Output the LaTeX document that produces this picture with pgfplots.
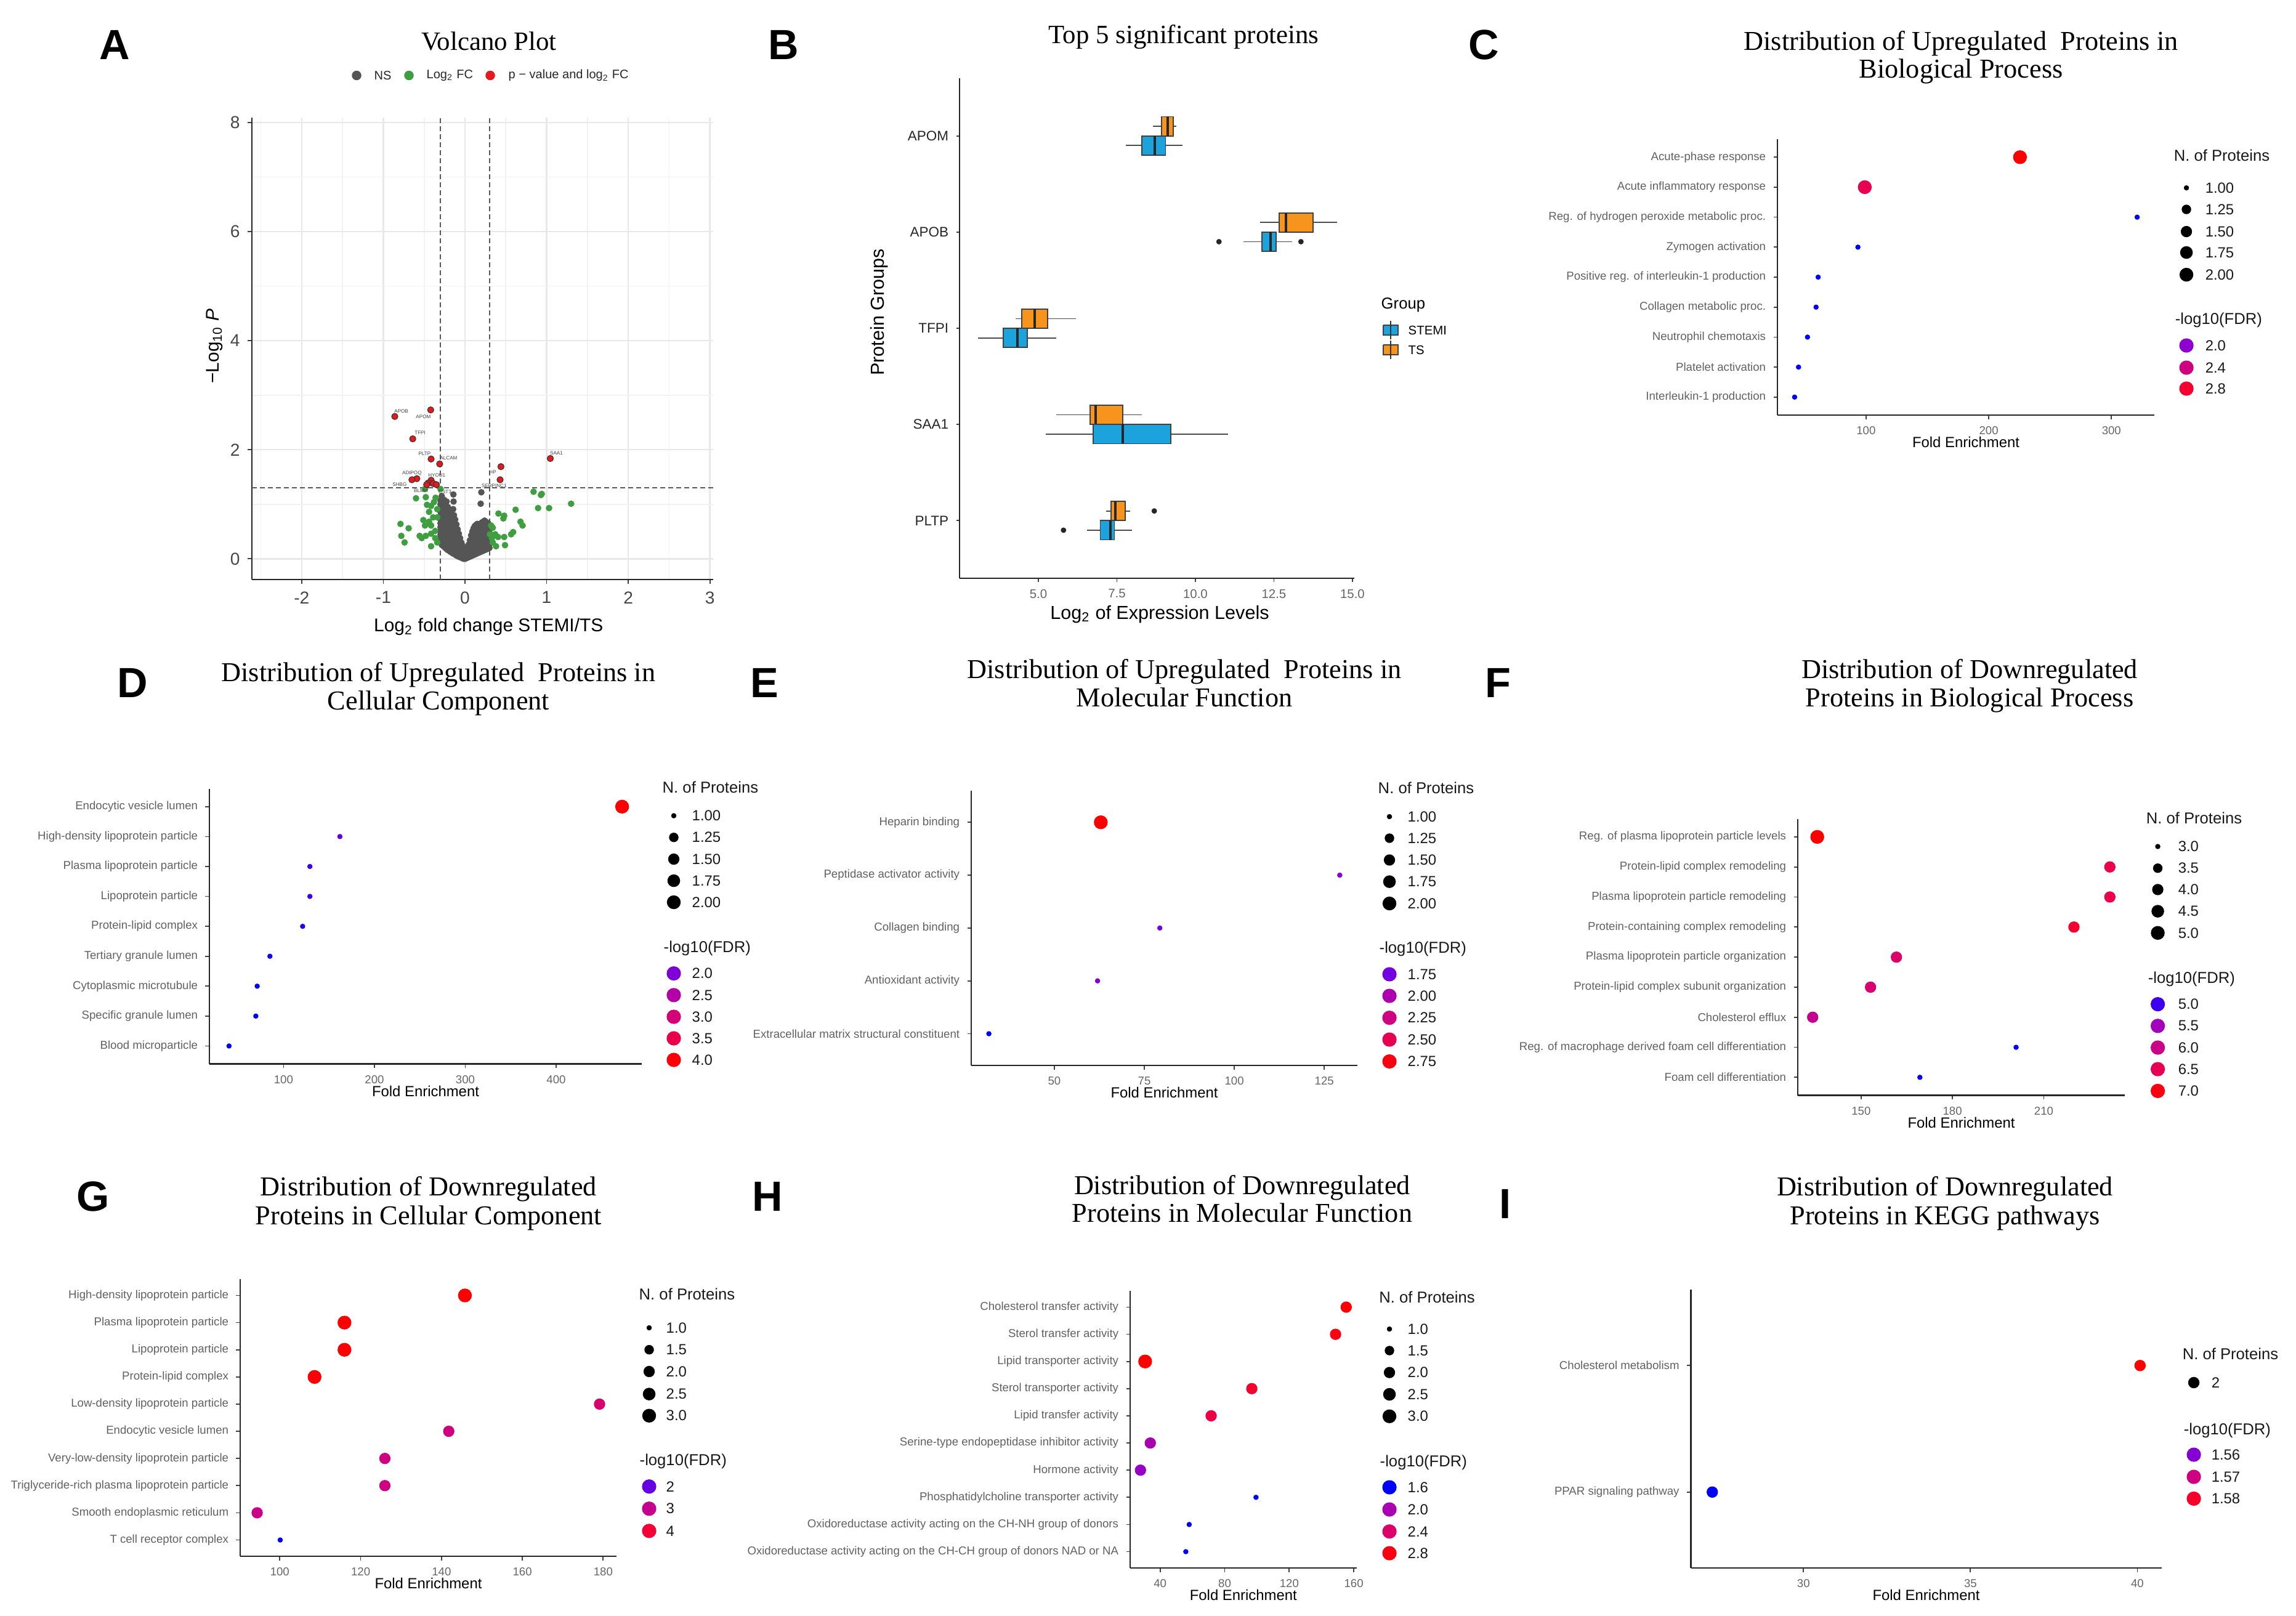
\documentclass[border=0pt]{standalone}
\usepackage{fontspec}
\setmainfont{Liberation Sans}
\newfontfamily\titlefont{Liberation Serif}
\usepackage{pgfplots}
\pgfplotsset{compat=1.18}
\usepgfplotslibrary{statistics}

\definecolor{nsgray}{HTML}{555555}
\definecolor{fcgreen}{HTML}{3F9E3F}
\definecolor{pred}{HTML}{E3191E}
\definecolor{stemi}{HTML}{1CA3DE}
\definecolor{ts}{HTML}{F7941D}

\newcommand\fletter{\fontsize{19.5}{20}\selectfont\bfseries}
\newcommand\ftitle{\titlefont\fontsize{12.6}{13}\selectfont}
\newcommand\ftitleab{\titlefont\fontsize{12.2}{13}\selectfont}
\newcommand\flegt{\fontsize{7.3}{8.5}\selectfont}
\newcommand\fleg{\fontsize{6.8}{8}\selectfont}
\newcommand\ftick{\fontsize{5.3}{6.3}\selectfont}

\pgfplotsset{
  colormap={gg}{rgb255(0cm)=(0,0,255); rgb255(1cm)=(115,0,224); rgb255(2cm)=(154,0,195);
    rgb255(3cm)=(181,0,165); rgb255(4cm)=(201,0,136); rgb255(5cm)=(218,0,108);
    rgb255(6cm)=(232,0,80); rgb255(7cm)=(244,0,49); rgb255(8cm)=(255,0,0)},
  canvas/.style={scale only axis, width=372.8mm, height=262.4mm,
    xmin=0, xmax=3728, ymin=0, ymax=2624, y dir=reverse,
    hide axis, clip=false, at={(0mm,0mm)}, anchor=north west, colormap name=gg},
  nsize/.style 2 args={visualization depends on={\thisrow{n} \as \nprot},
    scatter/@pre marker code/.append style={/tikz/mark size={(3.5+7*sqrt((\nprot-#1)/(#2-#1)))*0.28453}}},
  dots/.style={scatter, only marks, mark=*, point meta=explicit,
    scatter/use mapped color={draw=mapped color, fill=mapped color}},
  gglines/.style={axis x line*=bottom, axis y line*=left,
    axis line style={-, line width=0.8pt, black!85},
    tick align=outside, tick pos=left, major tick length=0.65mm,
    tick style={line width=0.5pt, black!75}},
  dotpanel/.style={scale only axis, anchor=south west, clip=false, gglines,
    ymin=0.4, colormap name=gg, scaled x ticks=false,
    /pgf/number format/assume math mode=true,
    ticklabel style={font=\ftick},
    xticklabel style={text=black!60},
    yticklabel style={text=black!62},
    xlabel={Fold Enrichment},
    xlabel style={at={(axis description cs:0.5,0)}, anchor=center, yshift=-4.4mm,
      font=\fontsize{6.8}{8}\selectfont}},
}

\begin{document}
\begin{tikzpicture}
\path[use as bounding box] (0,0) rectangle (372.8mm,-262.4mm);

% ---------------- A: volcano plot
\begin{axis}[scale only axis, anchor=south west, at={(40.9mm,-94.1mm)},
  width=74.9mm, height=75mm, gglines, major tick length=0.7mm,
  xmin=-2.61, xmax=3.04, ymin=-0.38, ymax=8.09,
  xtick={-2,-1,0,1,2,3}, ytick={0,2,4,6,8},
  minor xtick={-2.5,-1.5,-0.5,0.5,1.5,2.5}, minor ytick={1,3,5,7}, minor tick length=0pt,
  grid=both, major grid style={black!9, line width=0.7pt},
  minor grid style={black!5, line width=0.45pt},
  /pgf/number format/assume math mode=true,
  ticklabel style={font=\fontsize{8}{9.6}\selectfont, text=black!72},
  label style={font=\fontsize{8.5}{10}\selectfont},
  xlabel={Log\textsubscript{2} fold change STEMI/TS},
  ylabel={−Log\textsubscript{10} \textit{P}},
  xlabel style={at={(axis description cs:0.513,-0.103)}, anchor=center},
  ylabel style={at={(axis description cs:-0.0814,0.505)}, anchor=center},
  clip=false]
\addplot[black!65, line width=0.5pt, dash pattern=on 0.8mm off 0.5mm] coordinates {(-0.3,-0.38) (-0.3,8.09)};
\addplot[black!65, line width=0.5pt, dash pattern=on 0.8mm off 0.5mm] coordinates {(0.3,-0.38) (0.3,8.09)};
\addplot[black!65, line width=0.5pt, dash pattern=on 0.8mm off 0.5mm] coordinates {(-2.61,1.3) (3.04,1.3)};
% NS
\addplot[only marks, mark=*, mark size=1.3pt, mark options={fill=nsgray, draw=nsgray}] coordinates {
(-0.300,0.30) (-0.300,0.37) (-0.300,0.44) (-0.300,0.51) (-0.300,0.58) (-0.300,0.65) (-0.300,0.72) (-0.300,0.79) (-0.300,0.86) (-0.300,0.93) (-0.300,1.00) (-0.300,1.07)
(-0.285,0.26) (-0.285,0.33) (-0.285,0.40) (-0.285,0.47) (-0.285,0.54) (-0.285,0.61) (-0.285,0.68) (-0.285,0.75) (-0.285,0.82) (-0.285,0.89) (-0.285,0.96) (-0.285,1.03) (-0.285,1.10) (-0.285,1.15)
(-0.270,0.24) (-0.270,0.31) (-0.270,0.38) (-0.270,0.45) (-0.270,0.52) (-0.270,0.59) (-0.270,0.66) (-0.270,0.73) (-0.270,0.80) (-0.270,0.87) (-0.270,0.94) (-0.270,1.02)
(-0.255,0.22) (-0.255,0.29) (-0.255,0.36) (-0.255,0.43) (-0.255,0.50) (-0.255,0.57) (-0.255,0.64) (-0.255,0.71) (-0.255,0.78) (-0.255,0.85) (-0.255,0.92) (-0.255,0.99) (-0.255,1.08)
(-0.240,0.20) (-0.240,0.27) (-0.240,0.34) (-0.240,0.41) (-0.240,0.48) (-0.240,0.55) (-0.240,0.62) (-0.240,0.69) (-0.240,0.76) (-0.240,0.83) (-0.240,0.90) (-0.240,0.98)
(-0.225,0.18) (-0.225,0.25) (-0.225,0.32) (-0.225,0.39) (-0.225,0.46) (-0.225,0.53) (-0.225,0.60) (-0.225,0.67) (-0.225,0.74) (-0.225,0.81) (-0.225,0.88) (-0.225,0.95) (-0.225,1.05)
(-0.210,0.16) (-0.210,0.23) (-0.210,0.30) (-0.210,0.37) (-0.210,0.44) (-0.210,0.51) (-0.210,0.58) (-0.210,0.65) (-0.210,0.72) (-0.210,0.79) (-0.210,0.86) (-0.210,0.95)
(-0.195,0.15) (-0.195,0.22) (-0.195,0.29) (-0.195,0.36) (-0.195,0.43) (-0.195,0.50) (-0.195,0.57) (-0.195,0.64) (-0.195,0.71) (-0.195,0.78) (-0.195,0.84) (-0.195,0.90)
(-0.180,0.13) (-0.180,0.20) (-0.180,0.27) (-0.180,0.34) (-0.180,0.41) (-0.180,0.48) (-0.180,0.55) (-0.180,0.62) (-0.180,0.69) (-0.180,0.76) (-0.180,0.86)
(-0.165,0.12) (-0.165,0.19) (-0.165,0.26) (-0.165,0.33) (-0.165,0.40) (-0.165,0.47) (-0.165,0.54) (-0.165,0.61) (-0.165,0.68) (-0.165,0.74) (-0.165,0.82)
(-0.150,0.10) (-0.150,0.17) (-0.150,0.24) (-0.150,0.31) (-0.150,0.38) (-0.150,0.45) (-0.150,0.52) (-0.150,0.59) (-0.150,0.66) (-0.150,0.75) (-0.145,0.91) (-0.140,1.05) (-0.142,1.18)
(-0.135,0.09) (-0.135,0.16) (-0.135,0.23) (-0.135,0.30) (-0.135,0.37) (-0.135,0.44) (-0.135,0.51) (-0.135,0.58) (-0.135,0.65) (-0.135,0.72) (-0.135,0.80)
(-0.120,0.08) (-0.120,0.15) (-0.120,0.22) (-0.120,0.29) (-0.120,0.36) (-0.120,0.43) (-0.120,0.50) (-0.120,0.57) (-0.120,0.64) (-0.120,0.72)
(-0.105,0.06) (-0.105,0.13) (-0.105,0.20) (-0.105,0.27) (-0.105,0.34) (-0.105,0.41) (-0.105,0.48) (-0.105,0.55) (-0.105,0.63)
(-0.090,0.05) (-0.090,0.12) (-0.090,0.19) (-0.090,0.26) (-0.090,0.33) (-0.090,0.40) (-0.090,0.47) (-0.090,0.54)
(-0.075,0.04) (-0.075,0.11) (-0.075,0.18) (-0.075,0.25) (-0.075,0.32) (-0.075,0.39) (-0.075,0.46)
(-0.060,0.03) (-0.060,0.10) (-0.060,0.17) (-0.060,0.24) (-0.060,0.31) (-0.060,0.38)
(-0.045,0.02) (-0.045,0.09) (-0.045,0.16) (-0.045,0.23) (-0.045,0.30)
(-0.030,0.01) (-0.030,0.08) (-0.030,0.15) (-0.030,0.24)
(-0.015,0.00) (-0.015,0.07) (-0.015,0.17)
(0.000,0.00) (0.000,0.06) (0.000,0.12)
(0.015,0.01) (0.015,0.08) (0.015,0.15)
(0.030,0.02) (0.030,0.09) (0.030,0.20)
(0.045,0.03) (0.045,0.10) (0.045,0.17) (0.045,0.26)
(0.060,0.04) (0.060,0.11) (0.060,0.18) (0.060,0.25) (0.060,0.34)
(0.075,0.05) (0.075,0.12) (0.075,0.19) (0.075,0.26) (0.075,0.33) (0.075,0.43)
(0.090,0.06) (0.090,0.13) (0.090,0.20) (0.090,0.27) (0.090,0.34) (0.090,0.41) (0.090,0.50)
(0.105,0.07) (0.105,0.14) (0.105,0.21) (0.105,0.28) (0.105,0.35) (0.105,0.42) (0.105,0.49) (0.105,0.56)
(0.120,0.08) (0.120,0.15) (0.120,0.22) (0.120,0.29) (0.120,0.36) (0.120,0.43) (0.120,0.50) (0.120,0.60)
(0.135,0.09) (0.135,0.16) (0.135,0.23) (0.135,0.30) (0.135,0.37) (0.135,0.44) (0.135,0.51) (0.135,0.62)
(0.150,0.10) (0.150,0.17) (0.150,0.24) (0.150,0.31) (0.150,0.38) (0.150,0.45) (0.150,0.52) (0.150,0.64)
(0.165,0.11) (0.165,0.18) (0.165,0.25) (0.165,0.32) (0.165,0.39) (0.165,0.46) (0.165,0.53) (0.165,0.62)
(0.180,0.12) (0.180,0.19) (0.180,0.26) (0.180,0.33) (0.180,0.40) (0.180,0.47) (0.180,0.54) (0.180,0.63)
(0.195,0.13) (0.195,0.20) (0.195,0.27) (0.195,0.34) (0.195,0.41) (0.195,0.48) (0.195,0.55) (0.195,0.65) (0.192,1.01) (0.200,1.22)
(0.210,0.14) (0.210,0.21) (0.210,0.28) (0.210,0.35) (0.210,0.42) (0.210,0.49) (0.210,0.56) (0.210,0.67)
(0.225,0.15) (0.225,0.22) (0.225,0.29) (0.225,0.36) (0.225,0.43) (0.225,0.50) (0.225,0.57) (0.225,0.68)
(0.240,0.16) (0.240,0.23) (0.240,0.30) (0.240,0.37) (0.240,0.44) (0.240,0.51) (0.240,0.58) (0.240,0.70)
(0.255,0.17) (0.255,0.24) (0.255,0.31) (0.255,0.38) (0.255,0.45) (0.255,0.52) (0.255,0.59) (0.255,0.68)
(0.270,0.18) (0.270,0.25) (0.270,0.32) (0.270,0.39) (0.270,0.46) (0.270,0.53) (0.270,0.66)
(0.285,0.19) (0.285,0.26) (0.285,0.33) (0.285,0.40) (0.285,0.47) (0.285,0.54) (0.285,0.65)
(0.300,0.20) (0.300,0.27) (0.300,0.34) (0.300,0.41) (0.300,0.48) (0.300,0.60)
};
% Log2 FC
\addplot[only marks, mark=*, mark size=1.3pt, mark options={fill=fcgreen, draw=fcgreen}] coordinates {
(-0.79,0.64) (-0.69,0.56) (-0.78,0.42) (-0.74,0.30) (-0.60,1.11) (-0.51,0.71) (-0.48,1.13)
(-0.36,1.12) (-0.465,0.99) (-0.415,0.97) (-0.44,0.86) (-0.39,0.76) (-0.49,0.61) (-0.415,0.61)
(-0.555,0.42) (-0.48,0.42) (-0.415,0.46) (-0.365,0.51) (-0.415,0.23) (-0.34,0.30) (-0.34,0.76)
(-0.34,0.91) (-0.49,1.28) (-0.30,1.28) (-0.365,0.38) (-0.44,0.68) (-0.53,0.38) (-0.38,1.04)
(0.84,1.23) (0.93,1.17) (0.94,1.19) (1.30,1.01) (0.895,0.93) (1.03,0.93) (0.62,0.90)
(0.41,0.83) (0.48,0.79) (0.47,0.74) (0.68,0.68) (0.705,0.61) (0.59,0.49) (0.565,0.45)
(0.48,0.40) (0.49,0.25) (0.34,0.57) (0.37,0.45) (0.405,0.40) (0.33,0.38) (0.32,0.61)
(0.34,0.30) (0.38,0.23) (0.305,0.45)
};
% p-value and log2 FC
\addplot[only marks, mark=*, mark size=1.45pt, mark options={fill=pred, draw=black!80, line width=0.3pt}] coordinates {
(-0.86,2.61) (-0.42,2.73) (-0.64,2.20) (-0.415,1.83) (-0.31,1.74) (1.045,1.84) (0.44,1.69)
(0.43,1.45) (-0.59,1.47) (-0.65,1.45) (-0.415,1.44) (-0.45,1.39) (-0.39,1.38) (-0.35,1.36) (-0.47,1.36)
};
\addplot[only marks, mark=none, nodes near coords, point meta=explicit symbolic,
  every node near coord/.append style={font=\fontsize{2.3}{2.6}\selectfont, text=black!75, inner sep=0pt, anchor=center}]
  coordinates {
(-0.78,2.71)[APOB] (-0.51,2.61)[APOM] (-0.55,2.31)[TFPI] (-0.495,1.93)[PLTP] (-0.20,1.85)[ALCAM]
(1.12,1.94)[SAA1] (0.34,1.59)[HP] (-0.65,1.57)[ADIPOQ] (-0.345,1.53)[HYOU1] (-0.80,1.36)[SHBG]
(-0.54,1.25)[BLMH] (-0.245,1.23)[CST3] (0.357,1.34)[SERPINC1]
};
\end{axis}

% ---------------- B: box plots
\begin{axis}[scale only axis, anchor=south west, at={(155.8mm,-93.9mm)},
  width=64.1mm, height=81.2mm, gglines, major tick length=0.55mm,
  xmin=2.49, xmax=15.06, ymin=0.4, ymax=5.6,
  xtick={5,7.5,10,12.5,15}, xticklabels={5.0,7.5,10.0,12.5,15.0},
  ytick={1,2,3,4,5}, yticklabels={PLTP,SAA1,TFPI,APOB,APOM},
  xticklabel style={font=\fontsize{5.8}{7}\selectfont, text=black!60},
  yticklabel style={font=\fontsize{6.4}{7.5}\selectfont, text=black!85},
  label style={font=\fontsize{8.7}{10}\selectfont},
  xlabel={Log\textsubscript{2} of Expression Levels}, ylabel={Protein Groups},
  xlabel style={at={(axis description cs:0.507,-0.0727)}, anchor=center},
  ylabel style={at={(axis description cs:-0.203,0.532)}, anchor=center},
  boxplot/draw direction=x, boxplot/box extend=0.2, boxplot/whisker extend=0,
  boxplot/every median/.style={line width=1.1pt, black!85},
  boxplot/every whisker/.style={black!70},
  clip=false]
% APOM
\addplot[fill=ts, draw=black!75, line width=0.5pt, boxplot prepared={draw position=5.1,
  lower whisker=8.64, lower quartile=8.92, median=9.12, upper quartile=9.30, upper whisker=9.39}] coordinates {};
\addplot[fill=stemi, draw=black!75, line width=0.5pt, boxplot prepared={draw position=4.9,
  lower whisker=7.79, lower quartile=8.30, median=8.70, upper quartile=9.05, upper whisker=9.58}] coordinates {};
% APOB
\addplot[fill=ts, draw=black!75, line width=0.5pt, boxplot prepared={draw position=4.1,
  lower whisker=12.05, lower quartile=12.67, median=12.89, upper quartile=13.75, upper whisker=14.51}] coordinates {};
\addplot[fill=stemi, draw=black!75, line width=0.5pt, boxplot prepared={draw position=3.9,
  lower whisker=11.53, lower quartile=12.12, median=12.40, upper quartile=12.57, upper whisker=13.08}] coordinates {};
% TFPI
\addplot[fill=ts, draw=black!75, line width=0.5pt, boxplot prepared={draw position=3.1,
  lower whisker=4.27, lower quartile=4.47, median=4.89, upper quartile=5.29, upper whisker=6.19}] coordinates {};
\addplot[fill=stemi, draw=black!75, line width=0.5pt, boxplot prepared={draw position=2.9,
  lower whisker=3.07, lower quartile=3.88, median=4.33, upper quartile=4.65, upper whisker=5.56}] coordinates {};
% SAA1
\addplot[fill=ts, draw=black!75, line width=0.5pt, boxplot prepared={draw position=2.1,
  lower whisker=5.57, lower quartile=6.64, median=6.82, upper quartile=7.69, upper whisker=8.30}] coordinates {};
\addplot[fill=stemi, draw=black!75, line width=0.5pt, boxplot prepared={draw position=1.9,
  lower whisker=5.24, lower quartile=6.75, median=7.69, upper quartile=9.22, upper whisker=11.04}] coordinates {};
% PLTP
\addplot[fill=ts, draw=black!75, line width=0.5pt, boxplot prepared={draw position=1.1,
  lower whisker=7.15, lower quartile=7.32, median=7.45, upper quartile=7.77, upper whisker=7.92}] coordinates {};
\addplot[fill=stemi, draw=black!75, line width=0.5pt, boxplot prepared={draw position=0.9,
  lower whisker=6.54, lower quartile=6.97, median=7.29, upper quartile=7.42, upper whisker=7.99}] coordinates {};
% outliers
\addplot[only marks, mark=*, mark size=1.05pt, black!85] coordinates {(10.75,3.9) (13.36,3.9) (8.69,1.1) (5.80,0.9)};
\end{axis}

% ---------------- C
\begin{axis}[dotpanel, at={(288.6mm,-67.4mm)}, width=61.2mm, height=44.8mm,
  xmin=27.8, xmax=335, ymax=9.6, xtick={100,200,300}, ytick={1,...,9},
  yticklabels={Interleukin-1 production,%
    Platelet activation,%
    Neutrophil chemotaxis,%
    Collagen metabolic proc.,%
    Positive reg. of interleukin-1 production,%
    Zymogen activation,%
    Reg. of hydrogen peroxide metabolic proc.,%
    Acute inflammatory response,%
    Acute-phase response},
  point meta min=1.75, point meta max=2.95]
\addplot[dots, nsize={1}{2}] table[x=fe, y=pos, meta=fdr] {
fe pos fdr n
225.5 9 2.95 2
99.0 8 2.65 2
321.0 7 1.75 1
93.4 6 1.75 1
61.0 5 1.75 1
59.3 4 1.75 1
52.3 3 1.75 1
45.0 2 1.75 1
41.8 1 1.75 1
};
\end{axis}

% ---------------- D
\begin{axis}[dotpanel, at={(34.0mm,-172.76mm)}, width=70.2mm, height=44.7mm,
  xmin=18.4, xmax=494.2, ymax=9.6, xtick={100,200,300,400}, ytick={1,...,9},
  yticklabels={Blood microparticle,%
    Specific granule lumen,%
    Cytoplasmic microtubule,%
    Tertiary granule lumen,%
    Protein-lipid complex,%
    Lipoprotein particle,%
    Plasma lipoprotein particle,%
    High-density lipoprotein particle,%
    Endocytic vesicle lumen},
  point meta min=1.6, point meta max=4.05]
\addplot[dots, nsize={1}{2}] table[x=fe, y=pos, meta=fdr] {
fe pos fdr n
472.6 9 4.05 2
162.0 8 1.85 1
129.0 7 1.75 1
129.0 6 1.75 1
121.0 5 1.70 1
85.0 4 1.65 1
71.0 3 1.60 1
69.5 2 1.60 1
40.0 1 1.60 1
};
\end{axis}

% ---------------- E
\begin{axis}[dotpanel, at={(157.7mm,-173.0mm)}, width=62.7mm, height=44.63mm,
  xmin=26.9, xmax=134.2, ymax=5.6, xtick={50,75,100,125}, ytick={1,...,5},
  yticklabels={Extracellular matrix structural constituent,%
    Antioxidant activity,%
    Collagen binding,%
    Peptidase activator activity,%
    Heparin binding},
  point meta min=1.6, point meta max=2.8]
\addplot[dots, nsize={1}{2}] table[x=fe, y=pos, meta=fdr] {
fe pos fdr n
62.9 5 2.80 2
129.3 4 1.80 1
79.3 3 1.75 1
62.0 2 1.80 1
31.8 1 1.60 1
};
\end{axis}

% ---------------- F
\begin{axis}[dotpanel, at={(291.9mm,-177.86mm)}, width=53.1mm, height=44.9mm,
  xmin=129.2, xmax=236.6, ymax=9.6, xtick={150,180,210}, ytick={1,...,9},
  yticklabels={Foam cell differentiation,%
    Reg. of macrophage derived foam cell differentiation,%
    Cholesterol efflux,%
    Protein-lipid complex subunit organization,%
    Plasma lipoprotein particle organization,%
    Protein-containing complex remodeling,%
    Plasma lipoprotein particle remodeling,%
    Protein-lipid complex remodeling,%
    Reg. of plasma lipoprotein particle levels},
  point meta min=4.85, point meta max=7.1]
\addplot[dots, nsize={3}{5}] table[x=fe, y=pos, meta=fdr] {
fe pos fdr n
135.6 9 7.10 5
231.7 8 6.60 4
231.7 7 6.60 4
219.9 6 6.80 4
161.6 5 6.30 4
153.1 4 6.20 4
134.1 3 5.90 4
200.9 2 4.85 3
169.3 1 4.85 3
};
\end{axis}

% ---------------- G
\begin{axis}[dotpanel, at={(39.0mm,-252.7mm)}, width=61.1mm, height=45.0mm,
  xmin=90.2, xmax=183.3, ymax=10.6, xtick={100,120,140,160,180}, ytick={1,...,10},
  yticklabels={T cell receptor complex,%
    Smooth endoplasmic reticulum,%
    Triglyceride-rich plasma lipoprotein particle,%
    Very-low-density lipoprotein particle,%
    Endocytic vesicle lumen,%
    Low-density lipoprotein particle,%
    Protein-lipid complex,%
    Lipoprotein particle,%
    Plasma lipoprotein particle,%
    High-density lipoprotein particle},
  point meta min=1.7, point meta max=4.4]
\addplot[dots, nsize={1}{3}] table[x=fe, y=pos, meta=fdr] {
fe pos fdr n
145.8 10 4.40 3
116.0 9 4.40 3
116.0 8 4.40 3
108.6 7 4.35 3
179.1 6 3.35 2
141.8 5 3.15 2
126.0 4 3.15 2
126.0 3 3.15 2
94.4 2 3.05 2
100.1 1 1.70 1
};
\end{axis}

% ---------------- H
\begin{axis}[dotpanel, at={(183.5mm,-254.6mm)}, width=36.76mm, height=45.0mm,
  xmin=21.4, xmax=161.7, ymax=10.6, xtick={40,80,120,160}, ytick={1,...,10},
  yticklabels={Oxidoreductase activity acting on the CH-CH group of donors NAD or NA,%
    Oxidoreductase activity acting on the CH-NH group of donors,%
    Phosphatidylcholine transporter activity,%
    Hormone activity,%
    Serine-type endopeptidase inhibitor activity,%
    Lipid transfer activity,%
    Sterol transporter activity,%
    Lipid transporter activity,%
    Sterol transfer activity,%
    Cholesterol transfer activity},
  point meta min=1.6, point meta max=2.85]
\addplot[dots, nsize={1}{3}] table[x=fe, y=pos, meta=fdr] {
fe pos fdr n
155.3 10 2.85 2
148.7 9 2.80 2
30.7 8 2.85 3
96.8 7 2.70 2
71.6 6 2.60 2
33.9 5 2.00 2
27.8 4 1.90 2
99.4 3 1.60 1
58.0 2 1.60 1
55.9 1 1.60 1
};
\end{axis}

% ---------------- I
\begin{axis}[dotpanel, at={(274.55mm,-254.6mm)}, width=76.4mm, height=45.2mm,
  xmin=26.63, xmax=40.72, ymax=2.6, xtick={30,35,40}, ytick={1,2},
  yticklabels={PPAR signaling pathway,Cholesterol metabolism},
  point meta min=1.555, point meta max=1.583]
\addplot[dots, mark size=2.42pt] table[x=fe, y=pos, meta=fdr] {
fe pos fdr
40.08 2 1.583
27.27 1 1.555
};
\end{axis}

% ---------------- legend keys: sizes, A and B
\begin{axis}[canvas]
\addplot[scatter, only marks, mark=*, scatter/use mapped color={draw=black, fill=black},
  nsize={1}{2}, point meta=\thisrow{n}] table[x=x, y=y] {
x y n
3550 305 1.00
3550 340 1.25
3550 376 1.50
3550 410 1.75
3550 446 2.00
1094 1324.5 1.00
1094 1359.7 1.25
1094 1395 1.50
1094 1430 1.75
1094 1465 2.00
2256 1326 1.00
2256 1361 1.25
2256 1396.4 1.50
2256 1431.6 1.75
2256 1467 2.00
};
\addplot[scatter, only marks, mark=*, scatter/use mapped color={draw=black, fill=black},
  nsize={3}{5}, point meta=\thisrow{n}] table[x=x, y=y] {
x y n
3503.5 1374.5 3.0
3503.5 1409.7 3.5
3503.5 1444.4 4.0
3503.5 1479.6 4.5
3503.5 1514.8 5.0
};
\addplot[scatter, only marks, mark=*, scatter/use mapped color={draw=black, fill=black},
  nsize={1}{3}, point meta=\thisrow{n}] table[x=x, y=y] {
x y n
1054 2156 1.0
1054 2191.6 1.5
1054 2227 2.0
1054 2263.6 2.5
1054 2298.7 3.0
2256 2158 1.0
2256 2193 1.5
2256 2228.6 2.0
2256 2264 2.5
2256 2299.7 3.0
};
\addplot[only marks, mark=*, mark size=2.42pt, black] coordinates {(3562,2245)};
% A legend
\addplot[only marks, mark=*, mark size=2pt, mark options={fill=nsgray, draw=nsgray}] coordinates {(579,122.5)};
\addplot[only marks, mark=*, mark size=2pt, mark options={fill=fcgreen, draw=fcgreen}] coordinates {(664,122.5)};
\addplot[only marks, mark=*, mark size=2pt, mark options={fill=pred, draw=pred}] coordinates {(796,122.5)};
% B legend
\addplot[mark=none, fill=stemi, draw=black!75, line width=0.5pt] coordinates {(2246,528) (2270,528) (2270,544) (2246,544) (2246,528)};
\addplot[mark=none, draw=black!80, line width=0.8pt] coordinates {(2258,521) (2258,551)};
\addplot[mark=none, fill=ts, draw=black!75, line width=0.5pt] coordinates {(2246,560) (2270,560) (2270,576) (2246,576) (2246,560)};
\addplot[mark=none, draw=black!80, line width=0.8pt] coordinates {(2258,553) (2258,583)};
\end{axis}

% ---------------- legend keys: colours
\begin{axis}[canvas, point meta min=1.75, point meta max=2.95]
\addplot[dots, mark size=3.1pt] table[x=x, y=y, meta=v] {
x y v
3550 561 2.0
3550 597 2.4
3550 631 2.8
};
\end{axis}
\begin{axis}[canvas, point meta min=1.6, point meta max=4.05]
\addplot[dots, mark size=3.1pt] table[x=x, y=y, meta=v] {
x y v
1094 1580.6 2.0
1094 1615.8 2.5
1094 1651 3.0
1094 1686 3.5
1094 1721 4.0
};
\end{axis}
\begin{axis}[canvas, point meta min=1.6, point meta max=2.8]
\addplot[dots, mark size=3.1pt] table[x=x, y=y, meta=v] {
x y v
2256 1582 1.75
2256 1617 2.00
2256 1652.6 2.25
2256 1688 2.50
2256 1723.5 2.75
};
\end{axis}
\begin{axis}[canvas, point meta min=4.85, point meta max=7.1]
\addplot[dots, mark size=3.1pt] table[x=x, y=y, meta=v] {
x y v
3503.5 1630.6 5.0
3503.5 1665.8 5.5
3503.5 1701 6.0
3503.5 1736 6.5
3503.5 1771.4 7.0
};
\end{axis}
\begin{axis}[canvas, point meta min=1.7, point meta max=4.4]
\addplot[dots, mark size=3.1pt] table[x=x, y=y, meta=v] {
x y v
1054 2413.7 2
1054 2449.7 3
1054 2485.8 4
};
\end{axis}
\begin{axis}[canvas, point meta min=1.6, point meta max=2.85]
\addplot[dots, mark size=3.1pt] table[x=x, y=y, meta=v] {
x y v
2256 2415 1.6
2256 2451 2.0
2256 2486.7 2.4
2256 2522 2.8
};
\end{axis}
\begin{axis}[canvas, point meta min=1.555, point meta max=1.583]
\addplot[dots, mark size=3.1pt] table[x=x, y=y, meta=v] {
x y v
3562 2362 1.56
3562 2398 1.57
3562 2433.4 1.58
};
\end{axis}

% ---------------- texts
\begin{scope}[x=0.1mm, y=-0.1mm]
% panel letters
\node[font=\fletter, anchor=base] at (186,97) {A};
\node[font=\fletter, anchor=base] at (1272,97) {B};
\node[font=\fletter, anchor=base] at (2409,97) {C};
\node[font=\fletter, anchor=base] at (215,1132) {D};
\node[font=\fletter, anchor=base] at (1241,1132) {E};
\node[font=\fletter, anchor=base] at (2432,1132) {F};
\node[font=\fletter, anchor=base] at (151,1966) {G};
\node[font=\fletter, anchor=base] at (1246,1966) {H};
\node[font=\fletter, anchor=base] at (2444,1978) {I};
% titles
\node[font=\ftitleab, anchor=base] at (794,82) {Volcano Plot};
\node[font=\ftitleab, anchor=base] at (1922,71) {Top 5 significant proteins};
\node[font=\ftitle, anchor=base] at (3184,82) {Distribution of Upregulated\ \ Proteins in};
\node[font=\ftitle, anchor=base] at (3184,127) {Biological Process};
\node[font=\ftitle, anchor=base] at (712,1106) {Distribution of Upregulated\ \ Proteins in};
\node[font=\ftitle, anchor=base] at (712,1152) {Cellular Component};
\node[font=\ftitle, anchor=base] at (1923,1101) {Distribution of Upregulated\ \ Proteins in};
\node[font=\ftitle, anchor=base] at (1923,1147) {Molecular Function};
\node[font=\ftitle, anchor=base] at (3198,1101) {Distribution of Downregulated};
\node[font=\ftitle, anchor=base] at (3198,1147) {Proteins in Biological Process};
\node[font=\ftitle, anchor=base] at (696,1941) {Distribution of Downregulated};
\node[font=\ftitle, anchor=base] at (696,1988) {Proteins in Cellular Component};
\node[font=\ftitle, anchor=base] at (2017,1939) {Distribution of Downregulated};
\node[font=\ftitle, anchor=base] at (2017,1984) {Proteins in Molecular Function};
\node[font=\ftitle, anchor=base] at (3158,1941) {Distribution of Downregulated};
\node[font=\ftitle, anchor=base] at (3158,1988) {Proteins in KEGG pathways};
% A legend
\begin{scope}[every node/.style={font=\fontsize{5.7}{7}\selectfont, anchor=west, inner sep=0pt, text=black!85}]
\node at (607,122.5) {NS};
\node at (692,122.5) {Log\textsubscript{2} FC};
\node at (825,122.5) {p − value and log\textsubscript{2} FC};
\end{scope}
% B legend
\node[font=\flegt, anchor=west, inner sep=0pt] at (2242,495) {Group};
\node[font=\fontsize{5.8}{7}\selectfont, anchor=west, inner sep=0pt] at (2286,536) {STEMI};
\node[font=\fontsize{5.8}{7}\selectfont, anchor=west, inner sep=0pt] at (2286,568) {TS};
% dot panel legends
\begin{scope}[every node/.style={anchor=west, inner sep=0pt, text=black!90}]
\node[font=\flegt] at (3529,252) {N. of Proteins};
\node[font=\fleg] at (3580,305) {1.00};
\node[font=\fleg] at (3580,340) {1.25};
\node[font=\fleg] at (3580,376) {1.50};
\node[font=\fleg] at (3580,410) {1.75};
\node[font=\fleg] at (3580,446) {2.00};
\node[font=\flegt] at (3531,520) {-log10(FDR)};
\node[font=\fleg] at (3580,561) {2.0};
\node[font=\fleg] at (3580,597) {2.4};
\node[font=\fleg] at (3580,631) {2.8};

\node[font=\flegt] at (1075,1278) {N. of Proteins};
\node[font=\fleg] at (1123,1324.5) {1.00};
\node[font=\fleg] at (1123,1359.7) {1.25};
\node[font=\fleg] at (1123,1395) {1.50};
\node[font=\fleg] at (1123,1430) {1.75};
\node[font=\fleg] at (1123,1465) {2.00};
\node[font=\flegt] at (1077,1540) {-log10(FDR)};
\node[font=\fleg] at (1123,1580.6) {2.0};
\node[font=\fleg] at (1123,1615.8) {2.5};
\node[font=\fleg] at (1123,1651) {3.0};
\node[font=\fleg] at (1123,1686) {3.5};
\node[font=\fleg] at (1123,1721) {4.0};

\node[font=\flegt] at (2237,1279.6) {N. of Proteins};
\node[font=\fleg] at (2285,1326) {1.00};
\node[font=\fleg] at (2285,1361) {1.25};
\node[font=\fleg] at (2285,1396.4) {1.50};
\node[font=\fleg] at (2285,1431.6) {1.75};
\node[font=\fleg] at (2285,1467) {2.00};
\node[font=\flegt] at (2239,1541) {-log10(FDR)};
\node[font=\fleg] at (2285,1582) {1.75};
\node[font=\fleg] at (2285,1617) {2.00};
\node[font=\fleg] at (2285,1652.6) {2.25};
\node[font=\fleg] at (2285,1688) {2.50};
\node[font=\fleg] at (2285,1723.5) {2.75};

\node[font=\flegt] at (3484,1328) {N. of Proteins};
\node[font=\fleg] at (3536,1374.5) {3.0};
\node[font=\fleg] at (3536,1409.7) {3.5};
\node[font=\fleg] at (3536,1444.4) {4.0};
\node[font=\fleg] at (3536,1479.6) {4.5};
\node[font=\fleg] at (3536,1514.8) {5.0};
\node[font=\flegt] at (3487,1590) {-log10(FDR)};
\node[font=\fleg] at (3536,1630.6) {5.0};
\node[font=\fleg] at (3536,1665.8) {5.5};
\node[font=\fleg] at (3536,1701) {6.0};
\node[font=\fleg] at (3536,1736) {6.5};
\node[font=\fleg] at (3536,1771.4) {7.0};

\node[font=\flegt] at (1037,2101) {N. of Proteins};
\node[font=\fleg] at (1081,2156) {1.0};
\node[font=\fleg] at (1081,2191.6) {1.5};
\node[font=\fleg] at (1081,2227) {2.0};
\node[font=\fleg] at (1081,2263.6) {2.5};
\node[font=\fleg] at (1081,2298.7) {3.0};
\node[font=\flegt] at (1038,2373) {-log10(FDR)};
\node[font=\fleg] at (1081,2413.7) {2};
\node[font=\fleg] at (1081,2449.7) {3};
\node[font=\fleg] at (1081,2485.8) {4};

\node[font=\flegt] at (2238.6,2106.7) {N. of Proteins};
\node[font=\fleg] at (2285,2158) {1.0};
\node[font=\fleg] at (2285,2193) {1.5};
\node[font=\fleg] at (2285,2228.6) {2.0};
\node[font=\fleg] at (2285,2264) {2.5};
\node[font=\fleg] at (2285,2299.7) {3.0};
\node[font=\flegt] at (2240,2374.7) {-log10(FDR)};
\node[font=\fleg] at (2285,2415) {1.6};
\node[font=\fleg] at (2285,2451) {2.0};
\node[font=\fleg] at (2285,2486.7) {2.4};
\node[font=\fleg] at (2285,2522) {2.8};

\node[font=\flegt] at (3543,2198) {N. of Proteins};
\node[font=\fleg] at (3590,2245) {2};
\node[font=\flegt] at (3545,2323) {-log10(FDR)};
\node[font=\fleg] at (3590,2362) {1.56};
\node[font=\fleg] at (3590,2398) {1.57};
\node[font=\fleg] at (3590,2433.4) {1.58};
\end{scope}
\end{scope}
\end{tikzpicture}
\end{document}
